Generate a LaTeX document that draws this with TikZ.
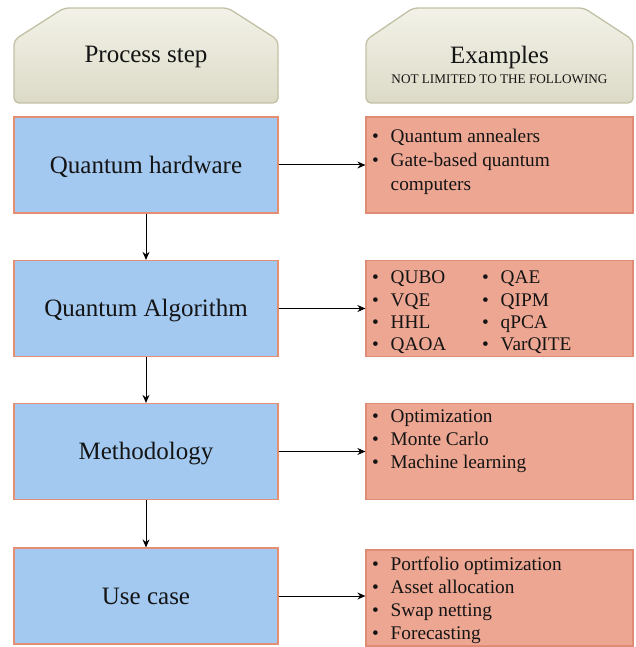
\documentclass[tikz,border=0pt]{standalone}
\usepackage{fontspec}
\setmainfont{Liberation Serif}
\usetikzlibrary{arrows.meta}

\definecolor{hdtop}{HTML}{F3F2E8}
\definecolor{hdbot}{HTML}{DCDAC7}
\definecolor{hdline}{HTML}{C2C0A4}
\definecolor{stepfill}{HTML}{A3C9F1}
\definecolor{stepline}{HTML}{E58E74}
\definecolor{exfill}{HTML}{EDA692}
\definecolor{exline}{HTML}{E08C74}
\definecolor{ink}{HTML}{141414}

\newcommand\bul{\makebox[18.5pt][l]{\textbullet}}

\tikzset{
  header/.style={draw=hdline, line width=1.3pt, rounded corners=5pt,
    top color=hdtop, bottom color=hdbot},
  headtext/.style={text=ink, inner sep=0pt, anchor=base},
  stepbox/.style={draw=stepline, line width=1.2pt, fill=stepfill,
    minimum width=264pt, minimum height=96pt},
  exbox/.style={draw=exline, line width=1.2pt, fill=exfill,
    minimum width=267pt, minimum height=96pt},
  exitem/.style={anchor=base west, inner sep=0pt, text=ink,
    text height=13pt, text depth=4pt,
    font=\fontsize{19.3}{23}\selectfont},
  link/.style={draw=black, line width=1pt, -{Stealth[length=8pt,width=7pt]}}
}

\begin{document}
\begin{tikzpicture}[x=1pt, y=-1pt]
\useasboundingbox (0,0) rectangle (636,647);

% column headers
\draw[header] (14,40) -- (64,8) -- (228,8) -- (278,40) -- (278,103) -- (14,103) -- cycle;
\draw[header] (366,40) -- (413,8) -- (584,8) -- (633,40) -- (633,103) -- (366,103) -- cycle;
\node[headtext, font=\fontsize{25}{28}\selectfont] (hstep) at (146,63) {Process step};
\node[headtext, font=\fontsize{25}{28}\selectfont] (hex) at (499.5,64) {Examples};
\node[headtext, font=\fontsize{13.2}{15}\selectfont] (hexsub) at (499.5,84) {NOT LIMITED TO THE FOLLOWING};

% process steps
\node[stepbox] (l1) at (146,165) {};
\node[stepbox] (l2) at (146,308.5) {};
\node[stepbox] (l3) at (146,451.5) {};
\node[stepbox] (l4) at (146,596) {};
\node[headtext, font=\fontsize{25}{28}\selectfont] (t1) at (146,173) {Quantum hardware};
\node[headtext, font=\fontsize{25}{28}\selectfont] (t2) at (146,316.5) {Quantum Algorithm};
\node[headtext, font=\fontsize{25}{28}\selectfont] (t3) at (146,459.5) {Methodology};
\node[headtext, font=\fontsize{25}{28}\selectfont] (t4) at (146,604) {Use case};

% example boxes
\node[exbox] (r1) at (499.5,165) {};
\node[exbox] (r2) at (499.5,308.5) {};
\node[exbox] (r3) at (499.5,451.5) {};
\node[exbox] (r4) at (499.5,598) {};

% hardware
\node[exitem] (r1a) at (372,143) {\bul Quantum annealers};
\node[exitem] (r1b) at (372,167) {\bul Gate-based quantum};
\node[exitem] (r1c) at (390.5,190) {computers};
% algorithms
\node[exitem] (r2a) at (372,283) {\bul QUBO};
\node[exitem] (r2b) at (372,306) {\bul VQE};
\node[exitem] (r2c) at (372,328) {\bul HHL};
\node[exitem] (r2d) at (372,350.5) {\bul QAOA};
\node[exitem] (r2e) at (482,283) {\bul QAE};
\node[exitem] (r2f) at (482,306) {\bul QIPM};
\node[exitem] (r2g) at (482,328) {\bul qPCA};
\node[exitem] (r2h) at (482,350.5) {\bul VarQITE};
% methodology
\node[exitem] (r3a) at (372,422) {\bul Optimization};
\node[exitem] (r3b) at (372,445) {\bul Monte Carlo};
\node[exitem] (r3c) at (372,468) {\bul Machine learning};
% use cases
\node[exitem] (r4a) at (372,570) {\bul Portfolio optimization};
\node[exitem] (r4b) at (372,593) {\bul Asset allocation};
\node[exitem] (r4c) at (372,616) {\bul Swap netting};
\node[exitem] (r4d) at (372,639) {\bul Forecasting};

% connectors
\draw[link] (l1.south) -- (l2.north);
\draw[link] (l2.south) -- (l3.north);
\draw[link] (l3.south) -- (l4.north);
\draw[link] (l1.east) -- (l1.east -| r1.west);
\draw[link] (l2.east) -- (l2.east -| r2.west);
\draw[link] (l3.east) -- (l3.east -| r3.west);
\draw[link] (l4.east) -- (l4.east -| r4.west);
\end{tikzpicture}
\end{document}
